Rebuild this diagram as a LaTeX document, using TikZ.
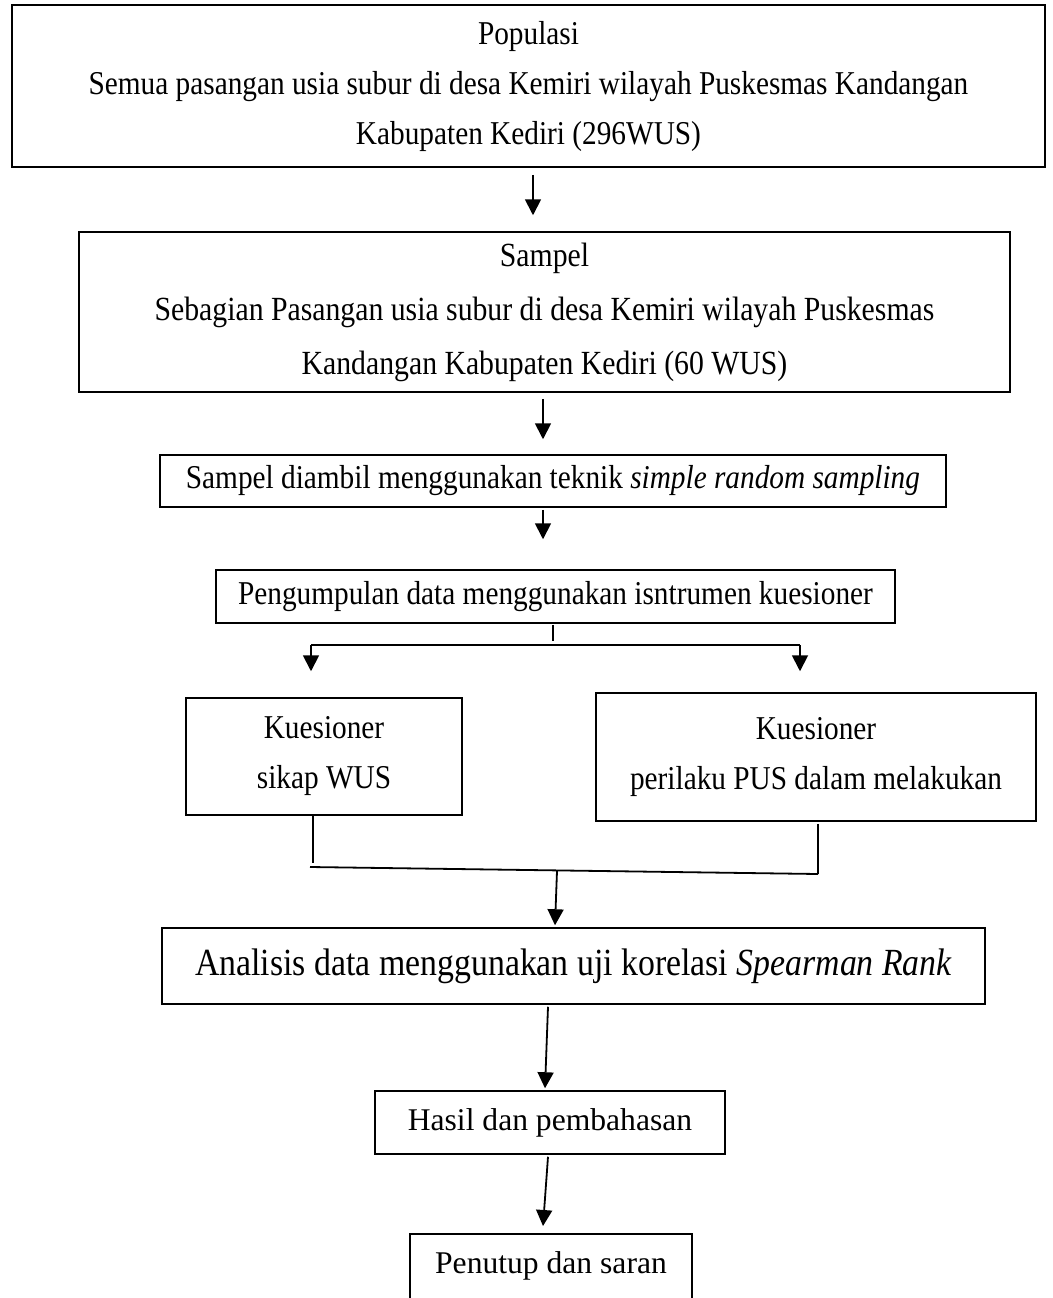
\documentclass[tikz,border=0pt]{standalone}
\usepackage{fontspec}
\setmainfont{Liberation Serif}
\newfontfamily\tallfont[FakeStretch=0.88]{Liberation Serif}
\usepackage{tikz}
\usetikzlibrary{arrows.meta,calc,positioning}
\tikzset{
    %Define style for boxes
    box/.style={
        rectangle,
        draw=black, line width=1.5pt,
        align=center,
        inner sep=0pt,
        font=\tallfont\fontsize{33.3}{50}\selectfont,
    },
    line/.style={
        draw=black, line width=1.8pt,
    },
    arr/.style={
        line,
        -{Triangle[width=16pt,length=16pt]},
    },
}
\begin{document}
\begin{tikzpicture}[x=1pt,y=-1pt]
		\useasboundingbox (0,0) rectangle (1052,1298);

		\node[box, minimum width=1033, minimum height=162] (pop) at (528.5,86)
			{Populasi\\Semua pasangan usia subur di desa Kemiri wilayah Puskesmas Kandangan\\Kabupaten Kediri (296WUS)};
		\node[box, minimum width=931, minimum height=160, font=\tallfont\fontsize{33.8}{54}\selectfont] (samp) at (544.5,312)
			{Sampel\\Sebagian Pasangan usia subur di desa Kemiri wilayah Puskesmas\\Kandangan Kabupaten Kediri (60 WUS)};
		\node[box, minimum width=786, minimum height=52] (tek) at (553,481)
			{Sampel diambil menggunakan teknik \textit{simple random sampling}};
		\node[box, minimum width=679, minimum height=53] (kump) at (555.5,596.5)
			{Pengumpulan data menggunakan isntrumen kuesioner};
		\node[box, minimum width=276, minimum height=117] (sikap) at (324,756.5)
			{Kuesioner\\sikap WUS};
		\node[box, minimum width=440, minimum height=128] (peri) at (816,757)
			{Kuesioner\\perilaku PUS dalam melakukan};
		\node[box, minimum width=823, minimum height=76, font=\tallfont\fontsize{38.4}{50}\selectfont] (anal) at (573.5,966)
			{Analisis data menggunakan uji korelasi {\itshape Spearman Rank}};
		\node[box, minimum width=350, minimum height=63, font=\fontsize{31.6}{50}\selectfont] (hasil) at (550,1122.5)
			{Hasil dan pembahasan};
		\node[box, minimum width=282, inner ysep=0pt, text height=40pt, text depth=57pt, anchor=north,
			font=\fontsize{31.6}{50}\selectfont] (tutup) at (551,1233)
			{Penutup dan saran};

		\coordinate (sl) at (311,645);
		\coordinate (sr) at (800,645);
		\coordinate (ml) at (310,867);
		\coordinate (mr) at (818,874);

		\draw[arr] ($(pop.south)+(4.5,7)$) -- ($(samp.north)+(-11.5,-16)$);
		\draw[arr] ($(samp.south)+(-1.5,6)$) -- ($(tek.north)+(-10,-15)$);
		\draw[arr] ($(tek.south)+(-10,2)$) -- ($(kump.north)+(-12.5,-30)$);

		\draw[line] ($(kump.south)+(-2.5,1)$) -- ($(kump.south)+(-2.5,17)$);
		\draw[line] (sl) -- (sr);
		\draw[arr] (sl) -- ($(sikap.north)+(-13,-26)$);
		\draw[arr] (sr) -- ($(peri.north)+(-16,-21)$);

		\draw[line] ($(sikap.south)+(-11,0)$) -- ($(sikap.south)+(-11,47)$);
		\draw[line] (ml) -- (mr);
		\draw[line] ($(peri.south)+(2,2)$) -- (mr);
		\draw[arr] (557,871) -- ($(anal.north)+(-18.5,-2)$);

		\draw[arr] ($(anal.south)+(-25.5,2)$) -- ($(hasil.north)+(-5,-2)$);
		\draw[arr] ($(hasil.south)+(-2,2)$) -- ($(tutup.north)+(-8,-7)$);
	\end{tikzpicture}
\end{document}
